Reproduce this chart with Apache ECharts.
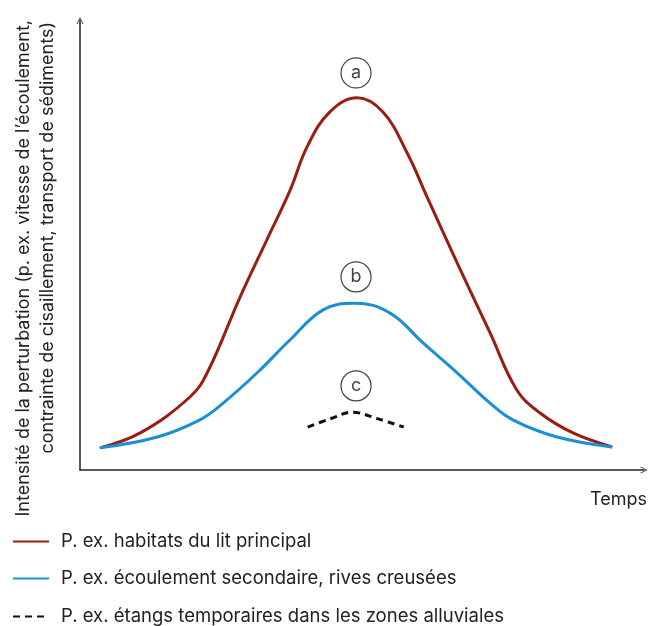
<!DOCTYPE html>
<html><head><meta charset="utf-8">
<script src="https://cdn.jsdelivr.net/npm/echarts@6/dist/echarts.min.js"></script>
<style>html,body{margin:0;padding:0;background:#fff}#c{width:660px;height:626px}</style>
</head><body><div id="c"></div>
<script>
// Data (arbitrary units: time 0-100, intensity 0-100)
const redX = [3.5,10.6,19.4,22.4,28.2,32.9,37.0,40.0,44.0,48.8,53.3,57.6,61.1,66.4,72.2,76.9,81.0,86.8,93.7];
const redY = [4.9,8.2,16.2,21.5,38.3,50.9,61.9,71.5,79.2,82.3,79.2,70.1,60.4,45.8,30.3,17.7,12.6,8.2,5.1];
const blueX = [3.5,13.6,21.1,25.2,31.2,37.0,42.8,48.4,54.6,60.4,66.4,72.2,76.2,84.0,93.7];
const blueY = [4.9,7.3,11.1,14.8,21.5,28.8,35.4,36.9,34.7,28.1,21.5,14.8,11.1,7.3,5.1];
const dashX = [40.1,44.0,47.9,52.5,57.0];
const dashY = [9.5,11.3,12.8,11.3,9.5];
const markerX = [48.6,48.6,48.6];
const markerY = [87.8,42.7,18.6];
const markerLabels = ['a','b','c'];
const seriesNames = [
  'P. ex. habitats du lit principal',
  'P. ex. écoulement secondaire, rives creusées',
  'P. ex. étangs temporaires dans les zones alluviales'
];
const yTitle1 = "Intensité de la perturbation (p. ex. vitesse de l’écoulement,";
const yTitle2 = "contrainte de cisaillement, transport de sédiments)";
const xTitle = "Temps";

const FONT = 'Inter';
const zip = (xs, ys) => xs.map((x, i) => [x, ys[i]]);
const arrow = 'path://M0,10 L5,0 L10,10 L8.8,10 L5,2.2 L1.2,10 Z';
const legendTops = [532, 569, 607];

const chart = echarts.init(document.getElementById('c'));
chart.setOption({
  animation: false,
  textStyle: { fontFamily: FONT },
  grid: { left: 80, right: 16, top: 20.5, bottom: 156 },
  xAxis: {
    type: 'value', min: 0, max: 99.3,
    axisLine: { show: true, lineStyle: { color: '#222', width: 1.5 }, symbol: ['none', arrow], symbolSize: [11, 7] },
    axisTick: { show: false }, axisLabel: { show: false }, splitLine: { show: false }
  },
  yAxis: {
    type: 'value', min: 0, max: 99.4,
    axisLine: { show: true, lineStyle: { color: '#222', width: 1.5 }, symbol: ['none', arrow], symbolSize: [11, 7] },
    axisTick: { show: false }, axisLabel: { show: false }, splitLine: { show: false }
  },
  legend: seriesNames.map((n, i) => ({
    left: 12, top: legendTops[i], padding: 0,
    itemWidth: 36, itemHeight: 14,
    data: [n],
    itemStyle: { opacity: 0 },
    textStyle: { fontFamily: FONT, fontSize: 18.5, color: '#222', padding: [0, 0, 0, 7] }
  })),
  graphic: [
    { type: 'text', x: 24, y: 20, rotation: Math.PI / 2,
      style: { text: yTitle1, font: '18px ' + FONT, fill: '#222', align: 'right', verticalAlign: 'middle' } },
    { type: 'text', x: 48, y: 22, rotation: Math.PI / 2,
      style: { text: yTitle2, font: '18px ' + FONT, fill: '#222', align: 'right', verticalAlign: 'middle' } },
    { type: 'text', right: 13, top: 491,
      style: { text: xTitle, font: '18px ' + FONT, fill: '#222' } }
  ],
  series: [
    { name: seriesNames[0], type: 'line', data: zip(redX, redY), smooth: 0.4,
      symbol: 'none', lineStyle: { color: '#991d12', width: 3 }, itemStyle: { color: '#991d12' } },
    { name: seriesNames[1], type: 'line', data: zip(blueX, blueY), smooth: 0.4,
      symbol: 'none', lineStyle: { color: '#1a8fd6', width: 3 }, itemStyle: { color: '#1a8fd6' } },
    { name: seriesNames[2], type: 'line', data: zip(dashX, dashY), smooth: 0.35,
      symbol: 'none', lineStyle: { color: '#111', width: 3, type: [7, 5] }, itemStyle: { color: '#111' } },
    { type: 'scatter', data: zip(markerX, markerY).map((p, i) => ({ value: p, name: markerLabels[i] })),
      symbol: 'circle', symbolSize: 30, z: 5,
      itemStyle: { color: '#fff', borderColor: '#111', borderWidth: 1.2 },
      label: { show: true, position: 'inside', formatter: '{b}', fontFamily: FONT, fontSize: 18, color: '#111' } }
  ]
});
</script></body></html>
